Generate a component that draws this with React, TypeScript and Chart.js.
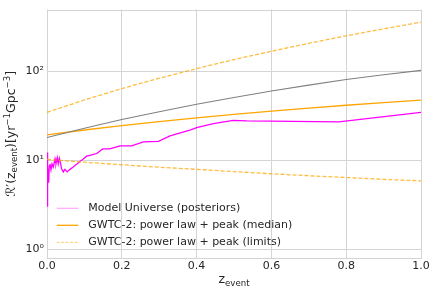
import React, { useEffect, useRef } from "react";
import { Chart, registerables } from "chart.js";

Chart.register(...registerables);

const zGrid = [0, 0.1, 0.2, 0.3, 0.4, 0.5, 0.6, 0.7, 0.8, 0.9, 1.0];
const grayValues = [18, 22.9, 28.6, 35.0, 42.5, 50.6, 59.7, 69.7, 80.6, 91, 102];
const medianValues = [19.3, 21.85, 24.5, 27.1, 29.9, 32.7, 35.6, 38.5, 41.4, 44.4, 47.3];
const upperValues = [34.5, 47.5, 63.7, 83.3, 106.9, 134.8, 167, 205, 249, 298, 354];
const lowerValues = [10.2, 9.5, 8.9, 8.35, 7.9, 7.45, 7.05, 6.7, 6.4, 6.1, 5.87];

const modelZ = [
  0, 0.0008, 0.0015, 0.0025, 0.0035, 0.0045, 0.006, 0.008, 0.0107, 0.0134, 0.0168,
  0.0214, 0.024, 0.0275, 0.03, 0.033, 0.0366, 0.039, 0.0436, 0.048, 0.054, 0.0615,
  0.07, 0.079, 0.088, 0.097, 0.106, 0.115, 0.124, 0.133, 0.149, 0.168, 0.195, 0.226,
  0.258, 0.298, 0.329, 0.382, 0.4, 0.445, 0.498, 0.534, 0.596, 0.78, 1.0,
];
const modelValues = [
  12.2, 3.0, 9.5, 5.5, 8.0, 5.6, 8.6, 9.1, 7.8, 9.1, 8.4,
  10.4, 9.1, 10.7, 9.1, 10.5, 9.1, 8.0, 7.4, 7.9, 7.4, 7.9,
  8.4, 9.0, 9.7, 10.3, 11.1, 11.35, 11.6, 11.9, 13.4, 13.4, 14.5, 14.5,
  16.1, 16.3, 18.8, 21.8, 23.2, 25.8, 28.0, 27.6, 27.5, 26.9, 34.4,
];

const yTickValues = [1, 10, 100];
const yTickLabels = ["10\u2070", "10\u00b9", "10\u00b2"];
const legendLabels = [
  "Model Universe (posteriors)",
  "GWTC-2: power law + peak (median)",
  "GWTC-2: power law + peak (limits)",
];

const FONT = "'DejaVu Sans', sans-serif";
const TEXT = "#262626";
const GRID = "#d4d4d4";
const ORANGE = "#ffa500";
const ORANGE_LIGHT = "rgba(255,165,0,0.75)";

type Part = { t: string; s: number; dy: number };

function drawParts(ctx: CanvasRenderingContext2D, parts: Part[], cx: number, y: number) {
  let total = 0;
  for (const p of parts) {
    ctx.font = `${p.s}px ${FONT}`;
    total += ctx.measureText(p.t).width;
  }
  let x = cx - total / 2;
  ctx.textAlign = "left";
  ctx.textBaseline = "alphabetic";
  for (const p of parts) {
    ctx.font = `${p.s}px ${FONT}`;
    ctx.fillText(p.t, x, y + p.dy);
    x += ctx.measureText(p.t).width;
  }
}

const decorPlugin = {
  id: "decor",
  beforeDatasetsDraw(chart: any) {
    const { ctx, chartArea: a } = chart;
    ctx.save();
    ctx.strokeStyle = GRID;
    ctx.lineWidth = 1;
    ctx.strokeRect(Math.round(a.left) + 0.5, Math.round(a.top) + 0.5, Math.round(a.right - a.left) - 1 + 1, Math.round(a.bottom - a.top));
    ctx.restore();
  },
  afterDraw(chart: any) {
    const { ctx, chartArea: a } = chart;
    ctx.save();
    ctx.fillStyle = TEXT;
    // x label
    drawParts(
      ctx,
      [
        { t: "z", s: 12.5, dy: 0 },
        { t: "event", s: 8.6, dy: 2.7 },
      ],
      (a.left + a.right) / 2,
      283.3
    );
    // y label
    ctx.translate(14.5, (a.top + a.bottom) / 2);
    ctx.rotate(-Math.PI / 2);
    drawParts(
      ctx,
      [
        { t: "\u211b\u2032(z", s: 12.5, dy: 0 },
        { t: "event", s: 8.6, dy: 2.3 },
        { t: ")[yr", s: 12.5, dy: 0 },
        { t: "\u22121", s: 8.6, dy: -5 },
        { t: "Gpc", s: 12.5, dy: 0 },
        { t: "\u22123", s: 8.6, dy: -5 },
        { t: "]", s: 12.5, dy: 0 },
      ],
      0,
      0
    );
    ctx.restore();

    // legend
    const items = [
      { color: "rgba(255,0,255,0.35)", dash: [] as number[], width: 1.2 },
      { color: ORANGE, dash: [] as number[], width: 1.3 },
      { color: "rgba(255,165,0,0.45)", dash: [3, 1.5], width: 1.3 },
    ];
    ctx.save();
    ctx.font = `11px ${FONT}`;
    ctx.textBaseline = "middle";
    ctx.textAlign = "left";
    const rows = [-49.7, -32.7, -15.7];
    items.forEach((it, i) => {
      const y = a.bottom + rows[i];
      ctx.strokeStyle = it.color;
      ctx.lineWidth = it.width;
      ctx.setLineDash(it.dash);
      ctx.beginPath();
      ctx.moveTo(a.left + 9.7, y);
      ctx.lineTo(a.left + 31.3, y);
      ctx.stroke();
      ctx.setLineDash([]);
      ctx.fillStyle = TEXT;
      ctx.fillText(legendLabels[i], a.left + 41.3, y);
    });
    ctx.restore();
  },
};

export default function App() {
  const ref = useRef<HTMLCanvasElement | null>(null);

  useEffect(() => {
    document.body.style.margin = "0";
    const canvas = ref.current;
    if (!canvas) return;
    const pts = (xs: number[], ys: number[]) => xs.map((x, i) => ({ x, y: ys[i] }));
    const chart = new Chart(canvas, {
      type: "line",
      data: {
        datasets: [
          {
            label: "gray",
            data: pts(zGrid, grayValues),
            borderColor: "#808080",
            borderWidth: 1.1,
          },
          {
            label: "upper",
            data: pts(zGrid, upperValues),
            borderColor: ORANGE_LIGHT,
            borderWidth: 1.3,
            borderDash: [4, 2],
          },
          {
            label: "lower",
            data: pts(zGrid, lowerValues),
            borderColor: ORANGE_LIGHT,
            borderWidth: 1.3,
            borderDash: [4, 2],
          },
          {
            label: "median",
            data: pts(zGrid, medianValues),
            borderColor: ORANGE,
            borderWidth: 1.3,
          },
          {
            label: "model",
            data: pts(modelZ, modelValues),
            borderColor: "#ff00ff",
            borderWidth: 1.3,
          },
        ],
      },
      options: {
        animation: false,
        responsive: false,
        events: [],
        layout: { padding: { top: 5, right: 15, left: 0, bottom: 0 } },
        elements: { point: { radius: 0 }, line: { tension: 0, fill: false } },
        plugins: { legend: { display: false }, tooltip: { enabled: false } },
        scales: {
          x: {
            type: "linear",
            min: 0,
            max: 1,
            grid: { color: GRID, lineWidth: 1, drawTicks: false, tickLength: 0 },
            border: { display: false },
            ticks: {
              stepSize: 0.2,
              padding: 1.5,
              color: TEXT,
              font: { size: 11, family: FONT },
              maxRotation: 0,
              callback: (v: any) => Number(v).toFixed(1),
            },
            afterFit: (s: any) => {
              s.height = 35;
            },
          },
          y: {
            type: "logarithmic",
            min: 0.8,
            max: 490,
            grid: { color: GRID, lineWidth: 1, drawTicks: false, tickLength: 0 },
            border: { display: false },
            afterBuildTicks: (s: any) => {
              s.ticks = yTickValues.map((v) => ({ value: v, major: false }));
            },
            ticks: {
              padding: 3,
              color: TEXT,
              font: { size: 11, family: FONT },
              callback: (v: any) => {
                const i = yTickValues.indexOf(Number(v));
                return i >= 0 ? yTickLabels[i] : "";
              },
            },
            afterFit: (s: any) => {
              s.width = 47;
            },
          },
        },
      },
      plugins: [decorPlugin],
    });
    return () => chart.destroy();
  }, []);

  return (
    <div style={{ position: "absolute", left: 0, top: 0, width: 436, height: 293 }}>
      <canvas ref={ref} width={436} height={293} style={{ width: 436, height: 293, display: "block" }} />
    </div>
  );
}
